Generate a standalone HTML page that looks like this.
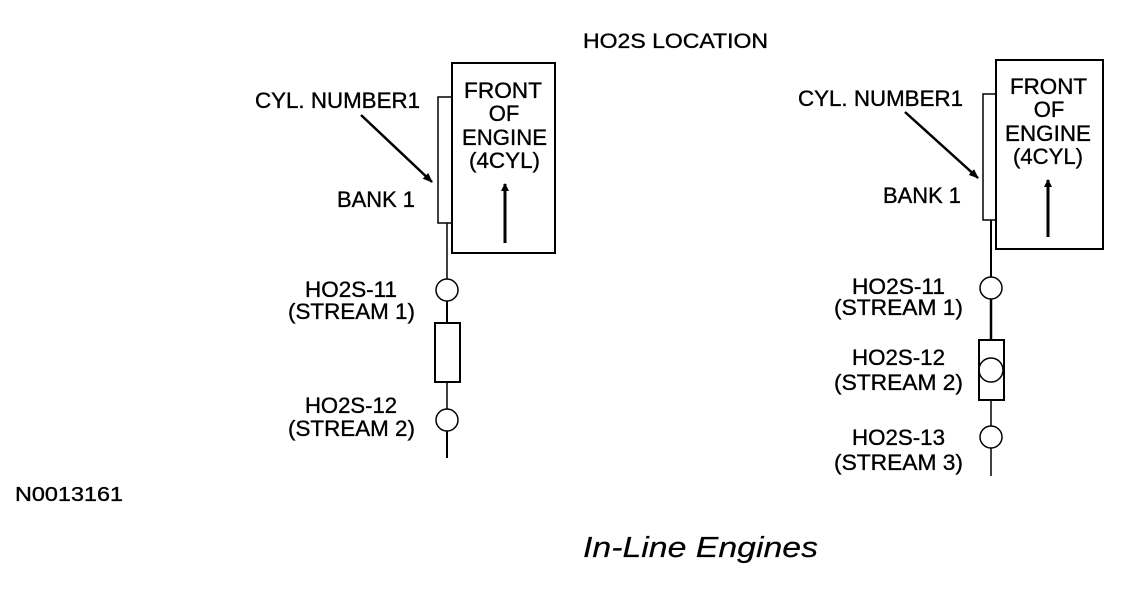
<!DOCTYPE html>
<html><head><style>
html,body{margin:0;padding:0;background:#fff;}
svg text{font-family:"Liberation Sans",sans-serif;fill:#000;stroke:#000;stroke-width:0.35;}
</style></head><body>
<svg width="1136" height="588" viewBox="0 0 1136 588" xmlns="http://www.w3.org/2000/svg">
<defs><marker id="ah" markerWidth="8" markerHeight="8" refX="7" refY="4" orient="auto" markerUnits="userSpaceOnUse"><path d="M0,0 L8,4 L0,8 z" fill="#000"/></marker>
<marker id="ah2" markerWidth="10" markerHeight="10" refX="9" refY="5" orient="auto" markerUnits="userSpaceOnUse"><path d="M0,1 L10,5 L0,9 z" fill="#000"/></marker></defs>
<text x="583" y="48" font-size="21" textLength="185" lengthAdjust="spacingAndGlyphs">HO2S LOCATION</text>
<text x="15" y="501" font-size="20" textLength="108" lengthAdjust="spacingAndGlyphs">N0013161</text>
<text x="583" y="557" font-size="29" font-style="italic" textLength="235" lengthAdjust="spacingAndGlyphs" style="stroke-width:0.2">In-Line Engines</text>

<g stroke="#000" fill="none" stroke-width="2">
<rect x="452" y="63" width="103" height="190"/>
<rect x="438" y="97" width="14" height="126" stroke-width="1.5"/>
<line x1="447" y1="223" x2="447" y2="279" stroke-width="1.5"/>
<circle cx="447" cy="290" r="11" stroke-width="1.5"/>
<line x1="447" y1="301" x2="447" y2="323"/>
<rect x="435" y="323" width="25" height="59"/>
<line x1="447" y1="382" x2="447" y2="409" stroke-width="1.5"/>
<circle cx="447" cy="420" r="11" stroke-width="1.5"/>
<line x1="447" y1="431" x2="447" y2="458"/>
<line x1="361" y1="115" x2="432" y2="182" stroke-width="2.5" marker-end="url(#ah2)"/>
<line x1="505" y1="243" x2="505" y2="184" stroke-width="3" marker-end="url(#ah)"/>
</g>
<g font-size="22">
<text x="464" y="98" textLength="78" lengthAdjust="spacingAndGlyphs">FRONT</text>
<text x="504" y="121" text-anchor="middle">OF</text>
<text x="462" y="145" textLength="85" lengthAdjust="spacingAndGlyphs">ENGINE</text>
<text x="469" y="168" textLength="71" lengthAdjust="spacingAndGlyphs">(4CYL)</text>
<text x="255" y="108" textLength="165" lengthAdjust="spacingAndGlyphs">CYL. NUMBER1</text>
<text x="337" y="207" textLength="78" lengthAdjust="spacingAndGlyphs">BANK 1</text>
<text x="305" y="297" textLength="92" lengthAdjust="spacingAndGlyphs">HO2S-11</text>
<text x="288" y="319" textLength="127" lengthAdjust="spacingAndGlyphs">(STREAM 1)</text>
<text x="305" y="413" textLength="92" lengthAdjust="spacingAndGlyphs">HO2S-12</text>
<text x="288" y="436" textLength="127" lengthAdjust="spacingAndGlyphs">(STREAM 2)</text>
</g>

<g stroke="#000" fill="none" stroke-width="2">
<rect x="996" y="60" width="107" height="189"/>
<rect x="983" y="94" width="13" height="126" stroke-width="1.5"/>
<line x1="991" y1="220" x2="991" y2="277"/>
<circle cx="991" cy="288" r="11" stroke-width="1.5"/>
<line x1="991" y1="299" x2="991" y2="340" stroke-width="2.5"/>
<rect x="979" y="340" width="25" height="60"/>
<circle cx="991" cy="370" r="12" stroke-width="1.5"/>
<line x1="991" y1="400" x2="991" y2="426" stroke-width="1.5"/>
<circle cx="991" cy="437" r="11" stroke-width="1.5"/>
<line x1="991" y1="448" x2="991" y2="476" stroke-width="1.5"/>
<line x1="905" y1="112" x2="978" y2="178" stroke-width="2.5" marker-end="url(#ah2)"/>
<line x1="1048" y1="237" x2="1048" y2="180" stroke-width="3" marker-end="url(#ah)"/>
</g>
<g font-size="22">
<text x="1010" y="94" textLength="77" lengthAdjust="spacingAndGlyphs">FRONT</text>
<text x="1049" y="117" text-anchor="middle">OF</text>
<text x="1005" y="141" textLength="86" lengthAdjust="spacingAndGlyphs">ENGINE</text>
<text x="1013" y="164" textLength="70" lengthAdjust="spacingAndGlyphs">(4CYL)</text>
<text x="798" y="106" textLength="165" lengthAdjust="spacingAndGlyphs">CYL. NUMBER1</text>
<text x="883" y="203" textLength="78" lengthAdjust="spacingAndGlyphs">BANK 1</text>
<text x="852" y="294" textLength="93" lengthAdjust="spacingAndGlyphs">HO2S-11</text>
<text x="834" y="315" textLength="129" lengthAdjust="spacingAndGlyphs">(STREAM 1)</text>
<text x="852" y="365" textLength="93" lengthAdjust="spacingAndGlyphs">HO2S-12</text>
<text x="834" y="390" textLength="129" lengthAdjust="spacingAndGlyphs">(STREAM 2)</text>
<text x="852" y="445" textLength="93" lengthAdjust="spacingAndGlyphs">HO2S-13</text>
<text x="834" y="470" textLength="129" lengthAdjust="spacingAndGlyphs">(STREAM 3)</text>
</g>
</svg>
</body></html>
